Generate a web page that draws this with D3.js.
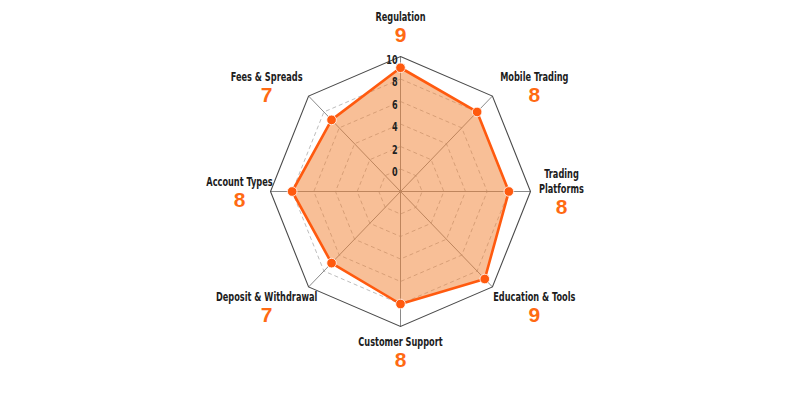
<!DOCTYPE html>
<html>
<head>
<meta charset="utf-8">
<script src="https://cdn.jsdelivr.net/npm/d3@7"></script>
<style>
  html, body { margin: 0; padding: 0; background: #ffffff; }
  svg { display: block; }
  .name { font-family: "DejaVu Sans Condensed", "DejaVu Sans", sans-serif; font-weight: bold; font-size: 12.5px; fill: #1c1c1c; }
  .val { font-family: "Liberation Sans", "Roboto", sans-serif; font-weight: bold; font-size: 21px; fill: #ff6a13; }
  .tick { font-family: "DejaVu Sans Condensed", "DejaVu Sans", sans-serif; font-weight: bold; font-size: 11.5px; fill: #222; }
</style>
</head>
<body>
<svg id="chart" width="800" height="400"></svg>
<script>
// ---- data ----
const categories = ["Regulation", "Mobile Trading", "Trading\nPlatforms", "Education & Tools",
                    "Customer Support", "Deposit & Withdrawal", "Account Types", "Fees & Spreads"];
const scores = [9, 8, 8, 9, 8, 7, 8, 7];
const gridLevels = [0, 2, 4, 6, 8];
const tickLabels = [0, 2, 4, 6, 8, 10];
const maxLevel = 10;

// ---- layout ----
const cx = 400.5, cy = 191.5;
const rx = 130, ry = 135;
const squeeze = 0.73;

const svg = d3.select("#chart");
const n = categories.length;
const angle = d3.scaleLinear().domain([0, n]).range([0, 2 * Math.PI]);
const r = d3.scaleLinear().domain([-2, maxLevel]).range([0, 1]);

const px = (i, v) => cx + Math.sin(angle(i)) * rx * r(v);
const py = (i, v) => cy - Math.cos(angle(i)) * ry * r(v);

const ringLine = d3.line().x(d => d[0]).y(d => d[1]).curve(d3.curveLinearClosed);
const ringPts = v => d3.range(n).map(i => [px(i, v), py(i, v)]);

// dashed grid rings
svg.append("g").selectAll("path").data(gridLevels).join("path")
  .attr("d", v => ringLine(ringPts(v)))
  .attr("fill", "none")
  .attr("stroke", "#bdbdbd")
  .attr("stroke-width", 1)
  .attr("stroke-dasharray", "4,3");

// axes
svg.append("g").selectAll("line").data(d3.range(n)).join("line")
  .attr("x1", cx).attr("y1", cy)
  .attr("x2", i => px(i, maxLevel)).attr("y2", i => py(i, maxLevel))
  .attr("stroke", "#8a8a8a")
  .attr("stroke-width", 1);

// outer ring
svg.append("path")
  .attr("d", ringLine(ringPts(maxLevel)))
  .attr("fill", "none")
  .attr("stroke", "#4a4a4a")
  .attr("stroke-width", 1.1);

// data area
const dataPts = scores.map((v, i) => [px(i, v), py(i, v)]);
svg.append("path")
  .attr("d", ringLine(dataPts))
  .attr("fill", "#f28030")
  .attr("fill-opacity", 0.5)
  .attr("stroke", "none");
svg.append("path")
  .attr("d", ringLine(dataPts))
  .attr("fill", "none")
  .attr("stroke", "#ff5a0f")
  .attr("stroke-width", 2.6)
  .attr("stroke-linejoin", "round");

svg.append("g").selectAll("circle").data(dataPts).join("circle")
  .attr("cx", d => d[0]).attr("cy", d => d[1])
  .attr("r", 4.8)
  .attr("fill", "#ff5a0f")
  .attr("stroke", "#ffffff")
  .attr("stroke-width", 0.8);

// tick labels along top axis
svg.append("g").selectAll("text").data(tickLabels).join("text")
  .attr("class", "tick")
  .attr("transform", v => `translate(${cx - 3},${cy - ry * r(v) + 3}) scale(0.78,1)`)
  .attr("text-anchor", "end")
  .attr("dominant-baseline", "central")
  .text(d => d);

// category labels
const lineH = 14.8, capH = 9, valH = 21;
categories.forEach((name, i) => {
  const a = angle(i);
  const s = Math.sin(a), c = Math.cos(a);
  const sc = Math.abs(s * c);
  const lx = cx + s * 161 + Math.sign(Math.round(s * 1000)) * sc * 40;
  const ly = cy - c * (c > 0 ? 165 : 160) + sc * (c > 0 ? 25 : 5);
  const lines = name.split("\n");
  const h = capH + (lines.length - 1) * lineH + valH;
  const top = ly - h / 2;
  const g = svg.append("g");
  const t = g.append("text").attr("class", "name")
    .attr("transform", `translate(${lx},${top + capH}) scale(${squeeze},1)`)
    .attr("text-anchor", "middle");
  lines.forEach((line, k) => {
    t.append("tspan").attr("x", 0).attr("y", k * lineH).text(line);
  });
  g.append("text").attr("class", "val")
    .attr("x", lx).attr("y", top + h)
    .attr("text-anchor", "middle").text(scores[i]);
});
</script>
</body>
</html>
